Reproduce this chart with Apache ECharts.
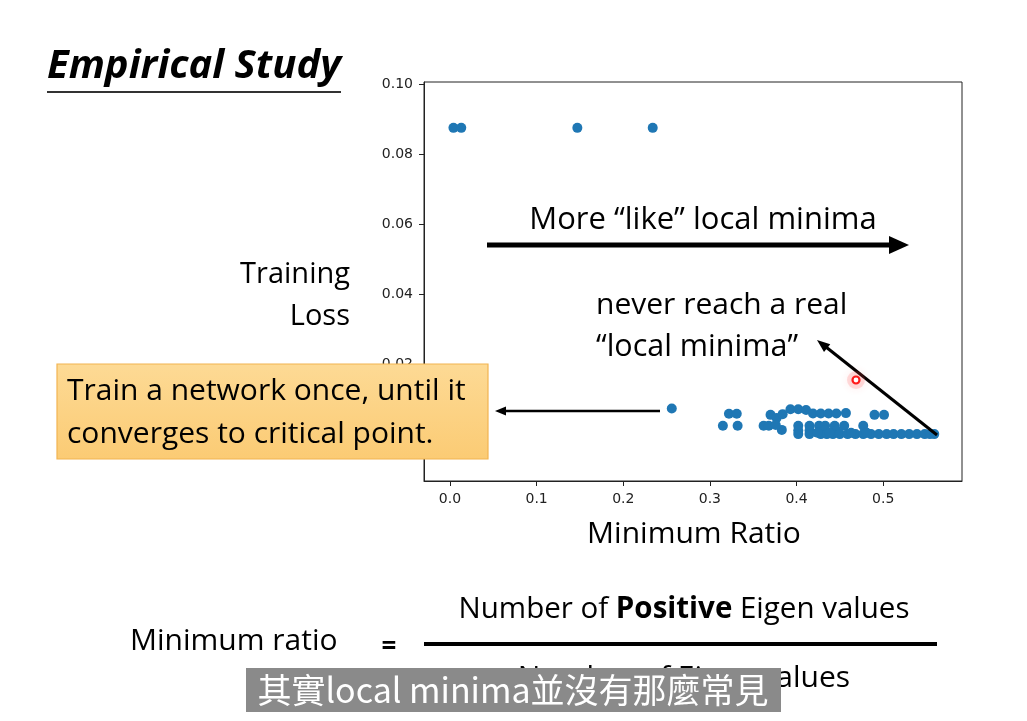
<!DOCTYPE html>
<html>
<head>
<meta charset="utf-8">
<script src="https://cdn.jsdelivr.net/npm/echarts@6/dist/echarts.min.js"></script>
<style>
html,body{margin:0;padding:0;background:#fff;}
#chart{width:1027px;height:721px;}
</style>
</head>
<body>
<div id="chart"></div>
<script>
// ---- data (Minimum Ratio, Training Loss) ----
const minRatio = [
  0.004, 0.013, 0.147, 0.234,
  0.256,
  0.322, 0.331, 0.315, 0.332,
  0.362, 0.368, 0.370, 0.377, 0.384, 0.383, 0.376,
  0.393, 0.402, 0.411, 0.419, 0.428, 0.437, 0.446, 0.457, 0.490, 0.501,
  0.402, 0.415, 0.426, 0.433, 0.444, 0.455, 0.477,
  0.402, 0.415, 0.433, 0.446,
  0.402, 0.415, 0.428, 0.435, 0.442, 0.450, 0.459, 0.468, 0.477, 0.486,
  0.495, 0.504, 0.512, 0.521, 0.530, 0.539, 0.548, 0.554, 0.559,
  0.424, 0.438, 0.463, 0.481
];
const trainingLoss = [
  0.0875, 0.0875, 0.0875, 0.0875,
  0.0073,
  0.0058, 0.0058, 0.0024, 0.0024,
  0.0024, 0.0024, 0.0055, 0.0046, 0.0057, 0.0012, 0.0026,
  0.0071, 0.0071, 0.0069, 0.0059, 0.0059, 0.0059, 0.0059, 0.0060, 0.0055, 0.0055,
  0.0024, 0.0024, 0.0024, 0.0024, 0.0024, 0.0024, 0.0024,
  0.0010, 0.0010, 0.0010, 0.0010,
  0.0000, 0.0000, 0.0000, 0.0000, 0.0000, 0.0000, 0.0000, 0.0000, 0.0000, 0.0000,
  0.0000, 0.0000, 0.0000, 0.0000, 0.0000, 0.0000, 0.0000, 0.0000, 0.0000,
  0.0004, 0.0004, 0.0004, 0.0004
];
const xTicks = [0.0, 0.1, 0.2, 0.3, 0.4, 0.5];
const yTicks = [0.00, 0.02, 0.04, 0.06, 0.08, 0.10];
const xRange = [-0.030, 0.591];
const yRange = [-0.0134, 0.1006];

const points = minRatio.map((x, i) => [x, trainingLoss[i]]);

const SLIDE_FONT = '"Open Sans", Lato, sans-serif';
const TICK_FONT = '"DejaVu Sans", sans-serif';

const chart = echarts.init(document.getElementById('chart'));

function arrowHead(tip, dir, len, halfW) {
  const [tx, ty] = tip;
  const [dx, dy] = dir;
  const n = Math.hypot(dx, dy);
  const ux = dx / n, uy = dy / n;
  const bx = tx - ux * len, by = ty - uy * len;
  return [[tx, ty], [bx - uy * halfW, by + ux * halfW], [bx + uy * halfW, by - ux * halfW]];
}

function txt(x, y, s, size, align, extra) {
  return Object.assign({ type: 'text', x: x, y: y, z: 100,
    style: { text: s, font: size + 'px ' + SLIDE_FONT, fill: '#000', align: align || 'left', verticalAlign: 'middle' } }, extra || {});
}

const option = {
  backgroundColor: '#ffffff',
  animation: false,
  grid: {
    left: 424, top: 82, width: 538, height: 399,
    show: true, borderColor: '#222', borderWidth: 1, containLabel: false
  },
  xAxis: {
    type: 'value', min: xRange[0], max: xRange[1],
    axisLine: { show: true, onZero: false, lineStyle: { color: '#222', width: 1 } },
    axisTick: { show: true, customValues: xTicks, length: 5, inside: false, lineStyle: { color: '#222' } },
    axisLabel: { show: true, customValues: xTicks, formatter: v => v.toFixed(1), margin: 11,
      color: '#222', fontSize: 14, fontFamily: TICK_FONT },
    splitLine: { show: false }
  },
  yAxis: {
    type: 'value', min: yRange[0], max: yRange[1],
    axisLine: { show: true, onZero: false, lineStyle: { color: '#222', width: 1 } },
    axisTick: { show: true, customValues: yTicks, length: 5, inside: false, lineStyle: { color: '#222' } },
    axisLabel: { show: true, customValues: yTicks, formatter: v => v.toFixed(2), margin: 11,
      color: '#222', fontSize: 14, fontFamily: TICK_FONT },
    splitLine: { show: false }
  },
  series: [{
    type: 'scatter',
    data: points,
    symbol: 'circle',
    symbolSize: 10,
    itemStyle: { color: '#1f77b4', opacity: 1 },
    z: 3
  }],
  graphic: [
    // Title
    { type: 'text', x: 47, y: 67, z: 100,
      style: { text: 'Empirical Study', font: 'italic bold 40px ' + SLIDE_FONT, fill: '#000', verticalAlign: 'middle' } },
    { type: 'line', z: 100, shape: { x1: 47, y1: 92, x2: 341, y2: 92 }, style: { stroke: '#333', lineWidth: 2 } },
    // Y axis label
    txt(350, 275, 'Training', 29, 'right'),
    txt(350, 317, 'Loss', 29, 'right'),
    // X axis label
    txt(694, 534, 'Minimum Ratio', 30, 'center'),
    // More like local minima
    txt(703, 220, 'More \u201Clike\u201D local minima', 31, 'center'),
    { type: 'line', z: 100, shape: { x1: 487, y1: 245, x2: 892, y2: 245 }, style: { stroke: '#000', lineWidth: 5 } },
    { type: 'polygon', z: 100, shape: { points: arrowHead([909, 245], [1, 0], 20, 9) }, style: { fill: '#000' } },
    // never reach a real local minima
    txt(596, 305, 'never reach a real', 30, 'left'),
    txt(596, 347, '\u201Clocal minima\u201D', 30.5, 'left'),
    { type: 'line', z: 100, shape: { x1: 937, y1: 435, x2: 826, y2: 347 }, style: { stroke: '#000', lineWidth: 3 } },
    { type: 'polygon', z: 100, shape: { points: arrowHead([817, 340], [-119, -95], 13, 5) }, style: { fill: '#000' } },
    // laser pointer
    { type: 'circle', z: 100, shape: { cx: 856, cy: 380, r: 9 },
      style: { fill: 'rgba(255,80,80,0.18)', stroke: null, shadowBlur: 8, shadowColor: 'rgba(255,60,60,0.5)' } },
    { type: 'circle', z: 101, shape: { cx: 856, cy: 380, r: 3.5 },
      style: { fill: '#fff', stroke: '#ff1a1a', lineWidth: 2.2 } },
    // yellow box
    { type: 'rect', z: 100, shape: { x: 57, y: 364, width: 431, height: 95 },
      style: {
        fill: new echarts.graphic.LinearGradient(0, 0, 0, 1, [
          { offset: 0, color: '#FDDA95' }, { offset: 1, color: '#FBCB74' }
        ]),
        stroke: '#F2B451', lineWidth: 1.2
      } },
    txt(67, 391, 'Train a network once, until it', 30, 'left', { z: 101 }),
    txt(67, 434, 'converges to critical point.', 30, 'left', { z: 101 }),
    { type: 'line', z: 100, shape: { x1: 660, y1: 411, x2: 505, y2: 411 }, style: { stroke: '#000', lineWidth: 2.5 } },
    { type: 'polygon', z: 100, shape: { points: arrowHead([495, 411], [-1, 0], 11, 4.5) }, style: { fill: '#000' } },
    // formula
    txt(130, 641, 'Minimum ratio', 30, 'left'),
    { type: 'text', x: 389, y: 648, z: 100,
      style: { text: '=', font: 'bold 26px ' + SLIDE_FONT, fill: '#000', align: 'center', verticalAlign: 'middle' } },
    { type: 'line', z: 100, shape: { x1: 424, y1: 644, x2: 937, y2: 644 }, style: { stroke: '#000', lineWidth: 4 } },
    { type: 'text', x: 684, y: 610, z: 100,
      style: {
        text: 'Number of {b|Positive} Eigen values',
        font: '29.5px ' + SLIDE_FONT, fill: '#000', align: 'center', verticalAlign: 'middle',
        rich: { b: { fontWeight: 'bold', fontSize: 29.5, fontFamily: SLIDE_FONT, fill: '#000' } }
      } },
    txt(684, 678, 'Number of Eigen values', 30, 'center'),
    // subtitle
    { type: 'rect', z: 110, shape: { x: 246, y: 668, width: 535, height: 44 },
      style: { fill: '#8a8a8a' } },
    { type: 'text', x: 513, y: 690, z: 111,
      style: { text: '其實local minima並沒有那麼常見', font: '34px "Noto Sans CJK TC", sans-serif', fill: '#fff', align: 'center', verticalAlign: 'middle' } }
  ]
};
chart.setOption(option);
</script>
</body>
</html>
